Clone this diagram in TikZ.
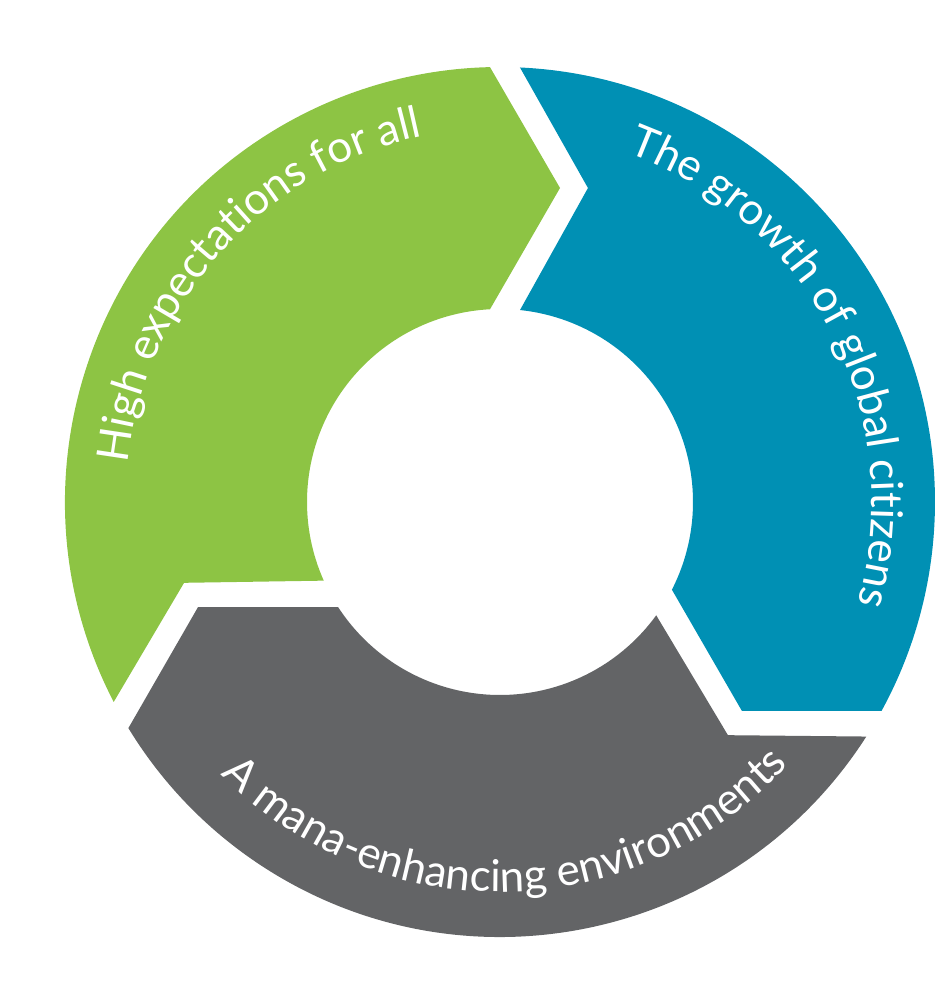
\documentclass[tikz,border=0pt]{standalone}
\usepackage{fontspec}
\newfontfamily\lblfamily{Lato}
\usetikzlibrary{decorations.text}
\definecolor{segGreen}{HTML}{8DC444}
\definecolor{segBlue}{HTML}{0090B4}
\definecolor{segGrey}{HTML}{636466}
\newcommand\lblstyle{\lblfamily\fontsize{44}{52}\selectfont}
\tikzset{
  ringlabel/.style={decorate, decoration={text along path, text align=center, text color=white, text={|\lblstyle|#1}}}
}
\begin{document}
\begin{tikzpicture}[x=1pt,y=1pt]
\useasboundingbox (-500,-496) rectangle (449,502);
\foreach \ang/\col in {0/segGreen, -120/segBlue, 120/segGrey} {
  \fill[\col, rotate=\ang] (91.32:435) -- (79.18:319.7) -- (92.97:193)
    arc[start angle=92.97, end angle=204.05, radius=193]
    -- (194.35:326.1) -- (207.37:435)
    arc[start angle=207.37, end angle=91.32, radius=435] -- cycle;
}
\path[ringlabel={High expectations for all}] (192:374) arc[start angle=192, end angle=84, radius=374];
\path[ringlabel={The growth of global citizens}] (77:372) arc[start angle=77, end angle=-23, radius=372];
\path[ringlabel={A mana-enhancing environments}] (216:390) arc[start angle=216, end angle=326, radius=390];
\end{tikzpicture}
\end{document}
